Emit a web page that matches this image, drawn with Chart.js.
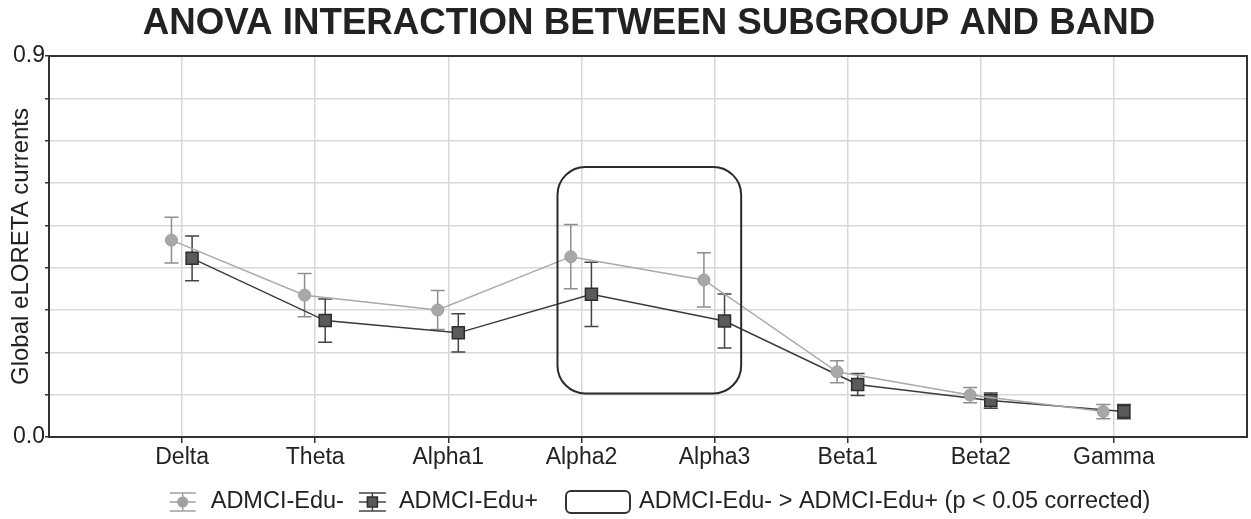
<!DOCTYPE html>
<html lang="en">
<head>
<meta charset="UTF-8">
<title>ANOVA interaction between subgroup and band</title>
<script src="https://cdn.jsdelivr.net/npm/chart.js"></script>
<style>
  html, body { margin: 0; padding: 0; background: #fff; overflow: hidden; }
  canvas { display: block; }
</style>
</head>
<body>
<canvas id="anovaChart" width="1251" height="519"></canvas>
<script>
// values (means and half-length of error bars)
const bands = ['Delta', 'Theta', 'Alpha1', 'Alpha2', 'Alpha3', 'Beta1', 'Beta2', 'Gamma'];
const eduMinus = [0.465, 0.335, 0.300, 0.426, 0.371, 0.154, 0.099, 0.060];
const eduMinusErr = [0.054, 0.051, 0.046, 0.076, 0.064, 0.026, 0.018, 0.017];
const eduPlus = [0.422, 0.275, 0.246, 0.337, 0.274, 0.124, 0.086, 0.060];
const eduPlusErr = [0.053, 0.051, 0.045, 0.076, 0.064, 0.026, 0.018, 0.017];
const seriesNames = ['ADMCI-Edu-', 'ADMCI-Edu+'];
const yTickLabels = ['0.0', '0.9'];
const boxBands = ['Alpha2', 'Alpha3'];
const boxRange = [0.103, 0.638];
const boxNote = 'ADMCI-Edu- > ADMCI-Edu+ (p < 0.05 corrected)';
const chartTitle = 'ANOVA INTERACTION BETWEEN SUBGROUP AND BAND';

const FONT = '"Liberation Sans", Arial, sans-serif';
const offsets = [-0.08, 0.075]; // dodge the two groups around each band

function toPoints(values, off) {
    return values.map((v, i) => ({ x: i + 1 + off, y: v }));
}

// title centred over the plot area
const plotTitle = {
    id: 'plotTitle',
    afterDraw(chart) {
        const { ctx, chartArea: a } = chart;
        ctx.save();
        ctx.font = 'bold 36.7px ' + FONT;
        ctx.fillStyle = '#222';
        ctx.textAlign = 'center';
        ctx.textBaseline = 'middle';
        ctx.fillText(chartTitle, (a.left + a.right) / 2 + 1, 24);
        ctx.restore();
    }
};

// error bars, drawn under the markers
const errorBars = {
    id: 'errorBars',
    beforeDatasetsDraw(chart) {
        const { ctx, scales: { x, y } } = chart;
        const sets = [
            { vals: eduMinus, errs: eduMinusErr, off: offsets[0], color: '#8e8e8e' },
            { vals: eduPlus, errs: eduPlusErr, off: offsets[1], color: '#444' }
        ];
        ctx.save();
        ctx.lineWidth = 1.5;
        sets.forEach(s => {
            ctx.strokeStyle = s.color;
            s.vals.forEach((v, i) => {
                const px = x.getPixelForValue(i + 1 + s.off);
                const top = y.getPixelForValue(v + s.errs[i]);
                const bot = y.getPixelForValue(v - s.errs[i]);
                ctx.beginPath();
                ctx.moveTo(px, top); ctx.lineTo(px, bot);
                ctx.moveTo(px - 7, top); ctx.lineTo(px + 7, top);
                ctx.moveTo(px - 7, bot); ctx.lineTo(px + 7, bot);
                ctx.stroke();
            });
        });
        ctx.restore();
    }
};

// rounded box around the significant bands + frame around plot
const boxAndFrame = {
    id: 'boxAndFrame',
    afterDatasetsDraw(chart) {
        const { ctx, chartArea: a, scales: { x, y } } = chart;
        const x1 = x.getPixelForValue(bands.indexOf(boxBands[0]) + 1 - 0.18);
        const x2 = x.getPixelForValue(bands.indexOf(boxBands[1]) + 1 + 0.2);
        const y1 = y.getPixelForValue(boxRange[1]);
        const y2 = y.getPixelForValue(boxRange[0]);
        ctx.save();
        ctx.strokeStyle = '#2a2a2a';
        ctx.lineWidth = 2;
        ctx.beginPath();
        ctx.roundRect(x1, y1, x2 - x1, y2 - y1, 28);
        ctx.stroke();
        ctx.strokeStyle = '#333';
        ctx.strokeRect(a.left, a.top, a.right - a.left, a.bottom - a.top);
        ctx.restore();
    }
};

// legend row at the bottom
const bottomLegend = {
    id: 'bottomLegend',
    afterDraw(chart) {
        const ctx = chart.ctx;
        const cy = 502;
        const items = [
            { icon: 'minus', w: 26, gap: 15, after: 15, text: seriesNames[0] },
            { icon: 'plus', w: 27, gap: 13, after: 28, text: seriesNames[1] },
            { icon: 'box', w: 64, gap: 9, after: 0, text: boxNote }
        ];
        ctx.save();
        ctx.font = '23.5px ' + FONT;
        ctx.textBaseline = 'middle';
        let total = 0;
        items.forEach(it => {
            it.tw = ctx.measureText(it.text).width;
            total += it.w + it.gap + it.tw + it.after;
        });
        let x = 660 - total / 2;
        items.forEach(it => {
            const mx = x + it.w / 2;
            if (it.icon === 'box') {
                ctx.strokeStyle = '#333';
                ctx.lineWidth = 2;
                ctx.beginPath();
                ctx.roundRect(x, cy - 11, it.w, 22, 5);
                ctx.stroke();
            } else {
                const dark = it.icon === 'plus';
                ctx.strokeStyle = dark ? '#444' : '#a0a0a0';
                ctx.lineWidth = 1.5;
                ctx.beginPath();
                ctx.moveTo(x, cy); ctx.lineTo(x + it.w, cy);
                ctx.moveTo(mx, cy - 9); ctx.lineTo(mx, cy + 9);
                ctx.moveTo(x, cy - 9); ctx.lineTo(x + it.w, cy - 9);
                ctx.moveTo(x, cy + 9); ctx.lineTo(x + it.w, cy + 9);
                ctx.stroke();
                ctx.beginPath();
                if (dark) {
                    ctx.fillStyle = '#5a5a5a';
                    ctx.rect(mx - 5, cy - 5, 10, 10);
                } else {
                    ctx.fillStyle = '#a0a0a0';
                    ctx.arc(mx, cy, 5.5, 0, Math.PI * 2);
                }
                ctx.fill();
                if (dark) { ctx.strokeStyle = '#2e2e2e'; ctx.stroke(); }
            }
            x += it.w + it.gap;
            ctx.fillStyle = '#222';
            ctx.fillText(it.text, x, cy);
            x += it.tw + it.after;
        });
        ctx.restore();
    }
};

const isInner = v => v >= 1 && v <= bands.length;

new Chart(document.getElementById('anovaChart'), {
    type: 'scatter',
    data: {
        datasets: [
            {
                label: seriesNames[0],
                data: toPoints(eduMinus, offsets[0]),
                showLine: true,
                borderColor: '#a9a9a9',
                borderWidth: 1.5,
                pointStyle: 'circle',
                pointRadius: 6,
                pointBackgroundColor: '#a8a8a8',
                pointBorderColor: '#9c9c9c',
                pointBorderWidth: 1
            },
            {
                label: seriesNames[1],
                data: toPoints(eduPlus, offsets[1]),
                showLine: true,
                borderColor: '#3a3a3a',
                borderWidth: 1.5,
                pointStyle: 'rect',
                pointRadius: 8.5,
                pointBackgroundColor: '#5a5a5a',
                pointBorderColor: '#2e2e2e',
                pointBorderWidth: 1.5
            }
        ]
    },
    options: {
        responsive: false,
        animation: false,
        layout: {
            autoPadding: false,
            padding: { left: 0, right: 4, top: 56, bottom: 46 }
        },
        plugins: {
            legend: { display: false },
            tooltip: { enabled: false },
            title: { display: false }
        },
        scales: {
            x: {
                type: 'linear',
                min: 0,
                max: bands.length + 1,
                ticks: {
                    stepSize: 1,
                    autoSkip: false,
                    maxRotation: 0,
                    padding: 1,
                    color: '#222',
                    font: { family: FONT, size: 23 },
                    callback: v => bands[v - 1] || ''
                },
                grid: {
                    color: c => isInner(c.tick.value) ? '#d8d8d8' : 'rgba(0,0,0,0)',
                    tickColor: c => isInner(c.tick.value) ? '#333' : 'rgba(0,0,0,0)',
                    lineWidth: 1.5,
                    tickLength: 6
                },
                border: { color: '#333', width: 2 },
                afterFit: s => { s.height = 36; }
            },
            y: {
                min: 0,
                max: 0.9,
                ticks: {
                    stepSize: 0.1,
                    padding: 0,
                    color: '#222',
                    font: { family: FONT, size: 23 },
                    callback: v => Math.abs(v) < 1e-6 ? yTickLabels[0]
                        : Math.abs(v - 0.9) < 1e-6 ? yTickLabels[1] : ''
                },
                grid: {
                    color: '#d8d8d8',
                    tickColor: '#333',
                    lineWidth: 1.5,
                    tickLength: 4
                },
                border: { color: '#333', width: 2 },
                title: {
                    display: true,
                    text: 'Global eLORETA currents',
                    color: '#222',
                    font: { family: FONT, size: 24 },
                    padding: { top: 7, bottom: 0 }
                },
                afterFit: s => { s.width = 49; }
            }
        }
    },
    plugins: [errorBars, boxAndFrame, plotTitle, bottomLegend]
});
</script>
</body>
</html>
